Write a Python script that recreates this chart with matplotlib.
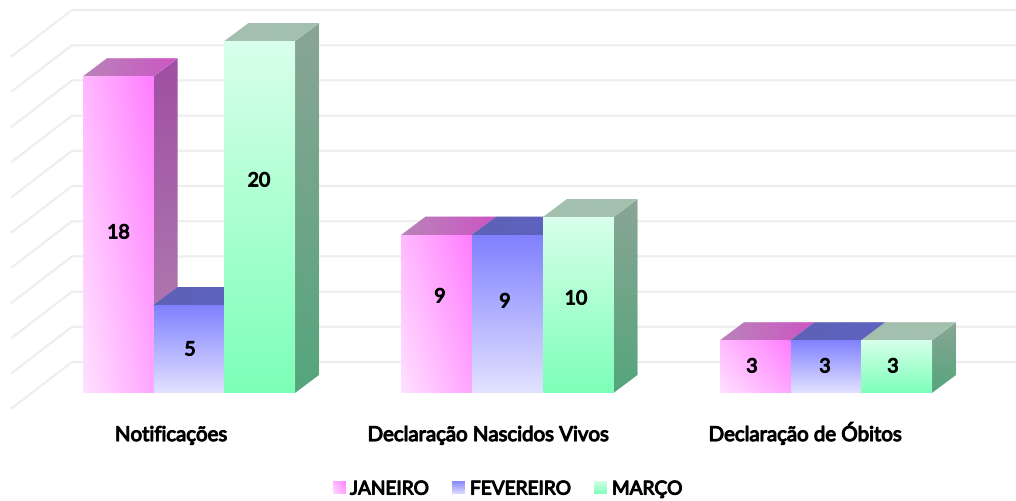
#!/usr/bin/env python3
# -*- coding: utf-8 -*-

import numpy as np
from matplotlib import pyplot as plt
from matplotlib import patheffects as pe
from matplotlib.colors import LinearSegmentedColormap
from matplotlib.patches import Polygon

categorias = ['Notificações', 'Declaração Nascidos Vivos', 'Declaração de Óbitos']
meses = ['JANEIRO', 'FEVEREIRO', 'MARÇO']
janeiro = [18, 9, 3]
fevereiro = [5, 9, 3]
marco = [20, 10, 3]
grid_vals = [0, 2, 4, 6, 8, 10, 12, 14, 16, 18, 20]

# escala: pixeles por unidad
SX = 318.5
SY = 17.6
X0 = 189
Y0 = 393
W = 70.7 / SX
DX = 24 / SX
DY = 18 / SY

plt.rcParams['font.family'] = ['Lato', 'DejaVu Sans']
plt.rcParams['text.hinting'] = 'no_hinting'

# la fuente instalada sale fina, se engorda con un trazo
NEGRITA = [pe.withStroke(linewidth=0.8, foreground='black')]

fig = plt.figure(figsize=(10.16, 5.02), dpi=100)
ax = fig.add_axes([0, 0, 1, 1])


def px(x, y):
    return (x - X0) / SX, (Y0 - y) / SY


def grad(face, c1, c2, mode):
    # c1 = inicio del gradiente, c2 = final
    cmap = LinearSegmentedColormap.from_list('g', [c1, c2])
    n = 64
    u, v = np.meshgrid(np.linspace(0, 1, n), np.linspace(0, 1, n))
    if mode == 'v':
        z = v
    elif mode == 'h':
        z = u
    else:
        z = 0.6 * u + 0.4 * v
    xs = [p[0] for p in face]
    ys = [p[1] for p in face]
    # imagen algo mayor que la cara, el recorte da el borde
    im = ax.imshow(z, cmap=cmap, vmin=0, vmax=1, origin='lower', aspect='auto',
                   extent=[min(xs) - 1 / SX, max(xs) + 1 / SX, min(ys) - 1 / SY, max(ys) + 1 / SY],
                   interpolation='bilinear', zorder=3)
    im.set_clip_path(Polygon(face, closed=True, transform=ax.transData))


estilos = [
    dict(front=('#ffe2ff', '#ff7dff', 'd'), top=('#b984b9', '#cc55c4', 'h'), side=('#b284b4', '#a04fa2', 'v')),
    dict(front=('#e2e2ff', '#8080ff', 'v'), top=('#5d62b6', '#5d62c0', 'h'), side=('#6a6ab0', '#5050a0', 'v')),
    dict(front=('#7dffb8', '#d8ffea', 'v'), top=('#a3c0ae', '#a3c0ae', 'h'), side=('#55a57c', '#8aa595', 'v')),
]

# lineas de fondo
(x_izq, _), (x_fondo, _) = px(12, 0), px(72, 0)
x_der = px(1016, 0)[0]
d_fondo = (Y0 - 362) / SY
d_frente = (408 - Y0) / SY
for v in grid_vals:
    ax.plot([x_izq, x_fondo, x_der], [v - d_frente, v + d_fondo, v + d_fondo],
            color='#eeeeee', lw=1.6, solid_joinstyle='round', zorder=1)

# barras 3D
for m, serie in enumerate([janeiro, fevereiro, marco]):
    e = estilos[m]
    for g, val in enumerate(serie):
        x1 = g - 1.5 * W + m * W
        x2 = x1 + W
        baja = 1 / SY  # la tapa entra un pixel bajo el frente, evita la costura
        grad([(x2, 0), (x2 + DX, DY), (x2 + DX, val + DY), (x2, val)], *e['side'])
        grad([(x1, val - baja), (x2, val - baja), (x2, val), (x2 + DX, val + DY), (x1 + DX, val + DY), (x1, val)], *e['top'])
        grad([(x1, 0), (x2, 0), (x2, val), (x1, val)], *e['front'])

# etiquetas de valor, colocadas a mano como en el original
pos_val = [[(118.5, 233), (440, 297), (752, 367)],
           [(190, 350), (505, 302), (825, 367)],
           [(259, 181), (576, 299), (893, 367)]]
for m, serie in enumerate([janeiro, fevereiro, marco]):
    for g, val in enumerate(serie):
        xt, yt = px(*pos_val[m][g])
        ax.text(xt, yt, str(val), ha='center', va='center', fontsize=14,
                color='black', zorder=5, path_effects=NEGRITA)

# categorias
for xc, cat in zip([171, 488, 805], categorias):
    xt, yt = px(xc, 441)
    ax.text(xt, yt, cat, ha='center', va='baseline', fontsize=14.7,
            color='black', zorder=5, path_effects=NEGRITA)

# leyenda
for m, (sx, tx) in enumerate([(333, 350), (452, 470), (594, 612)]):
    x1, y1 = px(sx, 494)
    x2, y2 = px(sx + 13, 481)
    grad([(x1, y1), (x2, y1), (x2, y2), (x1, y2)], *estilos[m]['front'])
    xt, yt = px(tx, 494.5)
    ax.text(xt, yt, meses[m], ha='left', va='baseline', fontsize=13.7,
            color='black', zorder=5, path_effects=NEGRITA)

ax.set_xlim(px(0, 0)[0], px(1016, 0)[0])
# un pixel hacia abajo para que la base caiga en su sitio
ax.set_ylim(px(0, 501)[1], px(0, -1)[1])
ax.axis('off')

fig.savefig('out.png', dpi=100, facecolor='white')
